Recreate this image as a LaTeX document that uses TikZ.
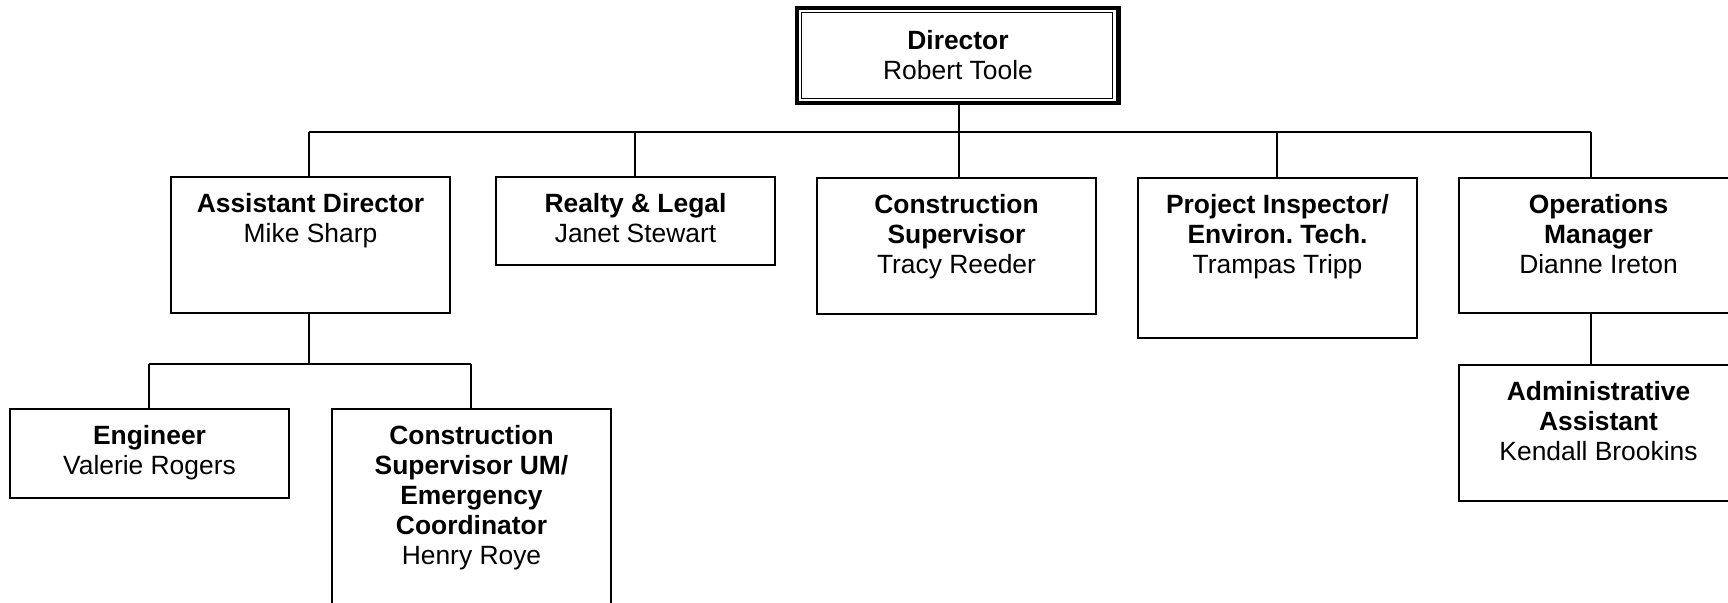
\documentclass[tikz,border=0pt]{standalone}
\usepackage{fontspec}
\setmainfont{Liberation Sans}
\frenchspacing
\newcommand{\firstln}{\rule{0pt}{11pt}}
\begin{document}
\begin{tikzpicture}[x=0.5pt,y=-0.5pt,
  box/.style={draw, line width=1pt, minimum width=139.5pt, minimum height=#1*0.5pt, inner sep=0pt, anchor=north},
  txt/.style={font=\fontsize{13.2pt}{15pt}\selectfont, align=center, anchor=north, inner sep=0pt},
  conn/.style={line width=0.85pt}]
\useasboundingbox (0,0) rectangle (1728,603);
\clip (0,0) rectangle (1728,603);
% Director
\node[draw, line width=2.25pt, minimum width=160.65pt, minimum height=47.4pt, inner sep=0pt] (dirbox) at (957.6,55.4) {};
\node[draw, line width=0.6pt, minimum width=155.65pt, minimum height=43.2pt, inner sep=0pt] (dirin) at (957.1,55.5) {};
\node[txt] (dirT) at (958,27) {\firstln\textbf{Director}\\Robert Toole};
% level 1 boxes
\node[box=136] (asst) at (310.5,176) {};
\node[txt] (asstT) at (310.5,190) {\firstln\textbf{Assistant Director}\\Mike Sharp};
\node[box=88] (realty) at (635.5,176) {};
\node[txt] (realtyT) at (635.5,190) {\firstln\textbf{Realty \& Legal}\\Janet Stewart};
\node[box=136] (cons) at (956.5,177) {};
\node[txt] (consT) at (956.5,191) {\firstln\textbf{Construction}\\\textbf{Supervisor}\\Tracy Reeder};
\node[box=160] (proj) at (1277.5,177) {};
\node[txt] (projT) at (1277.5,191) {\firstln\textbf{Project Inspector/}\\\textbf{Environ.\ Tech.}\\Trampas Tripp};
\node[box=135] (ops) at (1598.5,177) {};
\node[txt] (opsT) at (1598.5,191) {\firstln\textbf{Operations}\\\textbf{Manager}\\Dianne Ireton};
% level 2 boxes
\node[box=136] (admin) at (1598.5,364) {};
\node[txt] (adminT) at (1598.5,378) {\firstln\textbf{Administrative}\\\textbf{Assistant}\\Kendall Brookins};
\node[box=89] (eng) at (149.5,408) {};
\node[txt] (engT) at (149.5,422) {\firstln\textbf{Engineer}\\Valerie Rogers};
\node[box=220] (csum) at (471.5,408) {};
\node[txt] (csumT) at (471.5,422) {\firstln\textbf{Construction}\\\textbf{Supervisor UM/}\\\textbf{Emergency}\\\textbf{Coordinator}\\Henry Roye};
% bus coordinates
\coordinate (b1) at (309,132);
\coordinate (b2) at (635,132);
\coordinate (bd) at (959,132);
\coordinate (b4) at (1277,132);
\coordinate (b5) at (1591,132);
\coordinate (s0) at (309,364);
\coordinate (s1) at (149,364);
\coordinate (s2) at (471,364);
% connectors
\draw[conn] (b1) -- (b5);
\draw[conn] (dirbox.south -| bd) -- (cons.north -| bd);
\draw[conn] (b1) -- (asst.north -| b1);
\draw[conn] (b2) -- (realty.north -| b2);
\draw[conn] (b4) -- (proj.north -| b4);
\draw[conn] (b5) -- (ops.north -| b5);
\draw[conn] (asst.south -| s0) -- (s0);
\draw[conn] (s1) -- (s2);
\draw[conn] (s1) -- (eng.north -| s1);
\draw[conn] (s2) -- (csum.north -| s2);
\draw[conn] (ops.south -| b5) -- (admin.north -| b5);
\end{tikzpicture}
\end{document}
